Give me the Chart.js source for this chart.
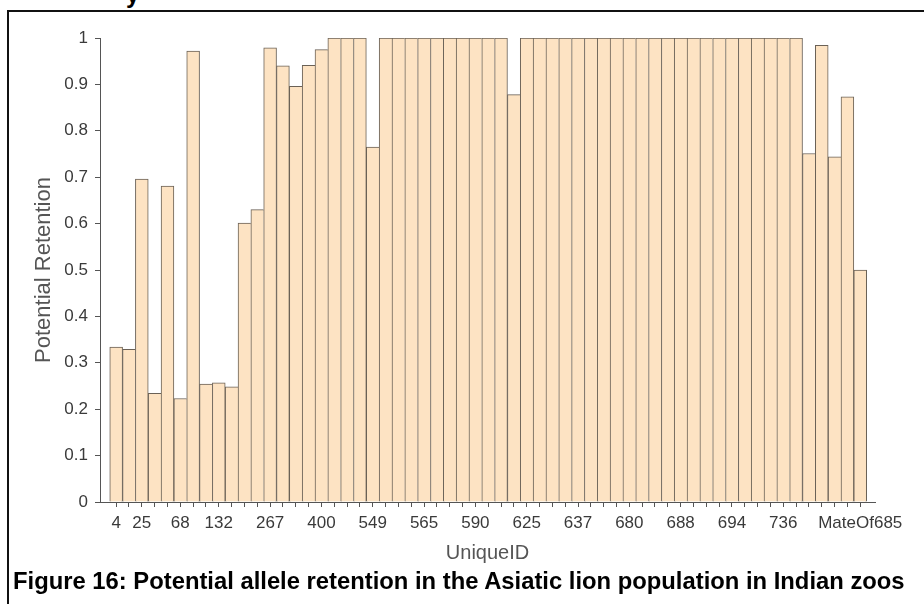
<!DOCTYPE html>
<html>
<head>
<meta charset="utf-8">
<script src="https://cdn.jsdelivr.net/npm/chart.js@4/dist/chart.umd.min.js"></script>
<style>
  html, body { margin: 0; padding: 0; background: #fff; }
  #wrap { position: relative; width: 924px; height: 604px; overflow: hidden; }
  #frame { position: absolute; left: 7px; top: 10px; right: 0; bottom: 0;
           border-left: 2px solid #111; border-top: 2px solid #111; }
  #cut { position: absolute; left: 126px; top: -17px; font: bold 24px "Liberation Sans", Arial, sans-serif;
         line-height: 24px; color: #000; }
  #caption { position: absolute; left: 13px; top: 567px; font: bold 23.8px "Liberation Sans", Arial, sans-serif;
             color: #000; white-space: nowrap; }
  canvas { position: absolute; left: 0; top: 0; }
</style>
</head>
<body>
<div id="wrap">
  <div id="frame"></div>
  <div id="cut">y</div>
  <canvas id="chart" width="924" height="604"></canvas>
  <div id="caption">Figure 16: Potential allele retention in the Asiatic lion population in Indian zoos</div>
</div>
<script>
// bars in order; only some IDs are printed on the axis, the rest are left blank
const uniqueIds = [
  "4", "", "25", "", "", "68", "", "", "132", "", "", "", "267", "", "", "",
  "400", "", "", "", "549", "", "", "", "565", "", "", "", "590", "", "", "",
  "625", "", "", "", "637", "", "", "", "680", "", "", "", "688", "", "", "",
  "694", "", "", "", "736", "", "", "", "", "", "MateOf685"
];

const retention = [
  0.334, 0.329, 0.696, 0.234, 0.681, 0.223, 0.972, 0.254, 0.257, 0.248,
  0.601, 0.630, 0.979, 0.940, 0.896, 0.941, 0.975, 1, 1, 1,
  0.765, 1, 1, 1, 1, 1, 1, 1, 1, 1,
  1, 0.878, 1, 1, 1, 1, 1, 1, 1, 1,
  1, 1, 1, 1, 1, 1, 1, 1, 1, 1,
  1, 1, 1, 1, 0.751, 0.984, 0.744, 0.873, 0.500
];

const yMin = 0;
const yMax = 1;
const yMinorStep = 0.05;

const sans = '"Liberation Sans", Arial, sans-serif';
const axisGrey = '#555';
const labelGrey = '#3a3a3a';

const points = retention.map((v, i) => ({ x: i, y: v }));

// right border only where the next bar is lower (or at the end), so shared edges stay 1px
function barBorder(ctx) {
  const i = ctx.dataIndex;
  const next = retention[i + 1];
  return { left: 1, top: 1, bottom: 0, right: (next === undefined || next < retention[i]) ? 1 : 0 };
}

new Chart(document.getElementById('chart'), {
  type: 'bar',
  data: {
    datasets: [{
      data: points,
      backgroundColor: '#fde3c3',
      borderColor: '#6a6156',
      borderWidth: barBorder,
      borderSkipped: false,
      barPercentage: 1,
      categoryPercentage: 1
    }]
  },
  options: {
    responsive: false,
    animation: false,
    events: [],
    layout: { padding: { left: 27, right: 49, top: 38, bottom: 36 } },
    plugins: { legend: { display: false }, tooltip: { enabled: false } },
    scales: {
      x: {
        type: 'linear',
        offset: false,
        min: -1.26,
        max: 59.15,
        afterBuildTicks: (scale) => {
          scale.ticks = uniqueIds.map((_, i) => ({ value: i }));
        },
        afterFit: (scale) => { scale.height = 66; },
        grid: { display: true, offset: false, drawOnChartArea: false, drawTicks: true, tickLength: 5, color: axisGrey },
        border: { display: true, color: axisGrey, width: 1 },
        ticks: {
          autoSkip: false,
          maxRotation: 0,
          padding: 6,
          color: labelGrey,
          font: { family: sans, size: 17 },
          callback: (value) => uniqueIds[value] || ''
        },
        title: {
          display: true,
          text: 'UniqueID',
          color: axisGrey,
          padding: { top: 0, bottom: 3 },
          font: { family: sans, size: 20 }
        }
      },
      y: {
        min: yMin,
        max: yMax,
        afterFit: (scale) => { scale.width = 73; },
        grid: { display: true, drawOnChartArea: false, drawTicks: true, tickLength: 5, color: axisGrey },
        border: { display: true, color: axisGrey, width: 1 },
        ticks: {
          stepSize: yMinorStep,
          padding: 7,
          color: labelGrey,
          font: { family: sans, size: 17 },
          callback: (value) => {
            const v = Math.round(value * 100);
            return v % 10 === 0 ? String(v / 100) : '';
          }
        },
        title: {
          display: true,
          text: 'Potential Retention',
          color: axisGrey,
          padding: { top: 4, bottom: 0 },
          font: { family: sans, size: 22 }
        }
      }
    }
  }
});
</script>
</body>
</html>
